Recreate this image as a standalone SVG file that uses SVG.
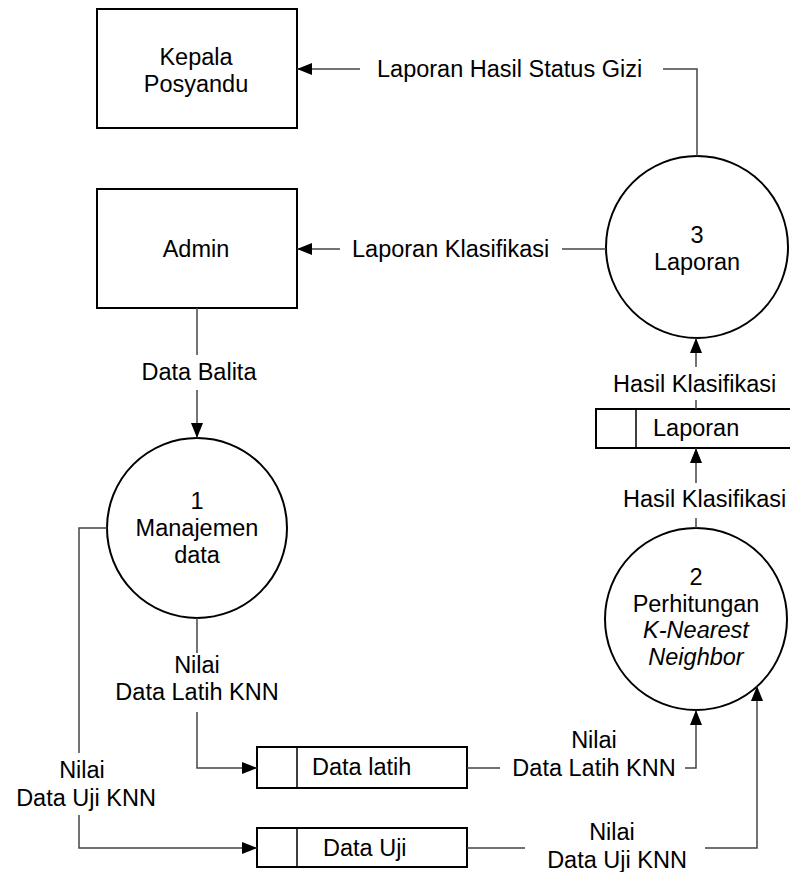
<svg xmlns="http://www.w3.org/2000/svg" width="790" height="872" viewBox="0 0 790 872">
<style>
  .box{fill:#fff;stroke:#000;stroke-width:2}
  .proc{fill:#fff;stroke:#000;stroke-width:2}
  .div{stroke:#000;stroke-width:1.5}
  .flow{fill:none;stroke:#444;stroke-width:1.5}
  text{font-family:"Liberation Sans",Arial,sans-serif;font-size:23.5px;fill:#000}
  .c{text-anchor:middle}
  .i{font-style:italic}
</style>
<defs>
  <marker id="arr" markerUnits="userSpaceOnUse" markerWidth="15" markerHeight="12" refX="15" refY="6" orient="auto">
    <path d="M0,0 L15,6 L0,12 z" fill="#000"/>
  </marker>
</defs>

<g id="kepala">
  <rect class="box" x="97" y="9" width="200" height="119"/>
  <text class="c" x="196" y="65">Kepala</text>
  <text class="c" x="196" y="92">Posyandu</text>
</g>
<g id="admin">
  <rect class="box" x="97" y="189" width="200" height="119"/>
  <text class="c" x="196" y="257">Admin</text>
</g>
<g id="p3">
  <circle class="proc" cx="697" cy="247" r="91"/>
  <text class="c" x="697" y="243">3</text>
  <text class="c" x="697" y="270">Laporan</text>
</g>
<g id="p1">
  <circle class="proc" cx="197" cy="528" r="90"/>
  <text class="c" x="197" y="509">1</text>
  <text class="c" x="197" y="536">Manajemen</text>
  <text class="c" x="197" y="563">data</text>
</g>
<g id="p2">
  <circle class="proc" cx="696" cy="619" r="91"/>
  <text class="c" x="696" y="585">2</text>
  <text class="c" x="696" y="612">Perhitungan</text>
  <text class="c i" x="696" y="638">K-Nearest</text>
  <text class="c i" x="696" y="665">Neighbor</text>
</g>
<g id="ds-laporan">
  <rect class="box" x="596" y="409" width="200" height="39"/>
  <line class="div" x1="636" y1="409" x2="636" y2="448"/>
  <text x="653" y="436">Laporan</text>
</g>
<g id="ds-latih">
  <rect class="box" x="257" y="747" width="210" height="41"/>
  <line class="div" x1="297" y1="747" x2="297" y2="788"/>
  <text x="312" y="775">Data latih</text>
</g>
<g id="ds-uji">
  <rect class="box" x="257" y="828" width="210" height="39"/>
  <line class="div" x1="297" y1="828" x2="297" y2="867"/>
  <text x="323" y="856">Data Uji</text>
</g>

<g id="connectors">
  <path class="flow" d="M697,156 V69 H663"/>
  <path class="flow" d="M360,69 H297" marker-end="url(#arr)"/>
  <text x="377" y="77">Laporan Hasil Status Gizi</text>

  <path class="flow" d="M606,249 H562"/>
  <path class="flow" d="M340,249 H297" marker-end="url(#arr)"/>
  <text x="352" y="257">Laporan Klasifikasi</text>

  <path class="flow" d="M197,308 V355"/>
  <path class="flow" d="M197,390 V438" marker-end="url(#arr)"/>
  <text class="c" x="199" y="380">Data Balita</text>

  <path class="flow" d="M197,618 V653"/>
  <path class="flow" d="M197,712 V768 H257" marker-end="url(#arr)"/>
  <text class="c" x="197" y="673">Nilai</text>
  <text class="c" x="197" y="700">Data Latih KNN</text>

  <path class="flow" d="M107,528 H79 V753"/>
  <path class="flow" d="M79,815 V848 H257" marker-end="url(#arr)"/>
  <text class="c" x="82" y="778">Nilai</text>
  <text class="c" x="86" y="806">Data Uji KNN</text>

  <path class="flow" d="M467,768 H500"/>
  <path class="flow" d="M685,768 H696 V710" marker-end="url(#arr)"/>
  <text class="c" x="594" y="748">Nilai</text>
  <text class="c" x="594" y="776">Data Latih KNN</text>

  <path class="flow" d="M467,848 H525"/>
  <path class="flow" d="M705,848 H757 V686" marker-end="url(#arr)"/>
  <text class="c" x="612" y="840">Nilai</text>
  <text class="c" x="617" y="868">Data Uji KNN</text>

  <path class="flow" d="M696,528 V518"/>
  <path class="flow" d="M696,483 V448" marker-end="url(#arr)"/>
  <text x="623" y="507">Hasil Klasifikasi</text>

  <path class="flow" d="M696,409 V400"/>
  <path class="flow" d="M696,367 V338" marker-end="url(#arr)"/>
  <text x="613" y="392">Hasil Klasifikasi</text>
</g>
</svg>
